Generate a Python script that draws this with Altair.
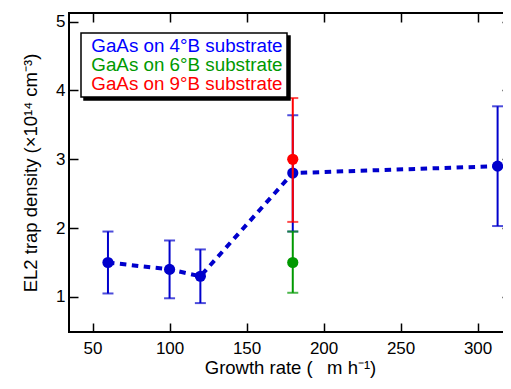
import altair as alt
import pandas as pd

series = ["GaAs on 4°B substrate", "GaAs on 6°B substrate", "GaAs on 9°B substrate"]
colors = ["#0000cc", "#009900", "#ff0000"]
text_colors = ["#0000ff", "#009900", "#ff0000"]

blue_x = [60, 100, 120, 180, 313]
blue_y = [1.5, 1.4, 1.3, 2.8, 2.9]
blue_lo = [1.05, 0.98, 0.91, 1.95, 2.03]
blue_hi = [1.95, 1.82, 1.69, 3.64, 3.77]

green_x = [180]
green_y = [1.5]
green_lo = [1.06]
green_hi = [1.95]

red_x = [180]
red_y = [3.0]
red_lo = [2.09]
red_hi = [3.89]

x_ticks = [50, 100, 150, 200, 250, 300]
y_ticks = [1, 2, 3, 4, 5]

FONT = "Liberation Sans"


def frame(xs, ys, lo, hi, name):
    return pd.DataFrame({"rate": xs, "val": ys, "lo": lo, "hi": hi, "series": [name] * len(xs),
                         "shadow": [name + "#"] * len(xs)})


dfs = [
    frame(blue_x, blue_y, blue_lo, blue_hi, series[0]),
    frame(green_x, green_y, green_lo, green_hi, series[1]),
    frame(red_x, red_y, red_lo, red_hi, series[2]),
]

xscale = alt.Scale(domain=[34.7, 321.7], nice=False, zero=False)
yscale = alt.Scale(domain=[0.49, 5.126], nice=False, zero=False)

x_axis = alt.Axis(values=x_ticks, title="Growth rate (\u2002\u00a0m h⁻¹)", domain=False, tickSize=9, offset=-9,
                  labelPadding=8, titlePadding=2, grid=False)
y_axis = alt.Axis(values=y_ticks, title="EL2 trap density (×10¹⁴ cm⁻³)", domain=False, tickSize=9, offset=-9,
                  labelPadding=4, titlePadding=15, grid=False)

label_color_expr = (
    f"datum.label == '{series[0]}' ? '{text_colors[0]}' : "
    f"datum.label == '{series[1]}' ? '{text_colors[1]}' : '{text_colors[2]}'"
)

common_legend = dict(
    title=None, orient="none", padding=3.5,
    labelFont=FONT, labelFontSize=18.8, labelOffset={"expr": "-26"}, labelLimit=400,
    symbolSize=0, symbolOpacity=0, symbolStrokeWidth=0, symbolOffset=14,
    rowPadding=0, clipHeight=18.3,
)

legend = alt.Legend(legendX=12, legendY=20, fillColor="white", strokeColor="black", zindex=2,
                    labelColor={"expr": label_color_expr}, **common_legend)
shadow_legend = alt.Legend(legendX=15, legendY=23, fillColor="black", strokeColor="black", zindex=1,
                           labelColor="black", labelExpr="slice(datum.label, 0, -1)", **common_legend)

color = alt.Color("series:N", scale=alt.Scale(domain=series, range=colors), legend=legend)

X = alt.X("rate:Q", scale=xscale, axis=x_axis)
Y = alt.Y("val:Q", scale=yscale, axis=y_axis)

layers = []
for i, df in enumerate(dfs):
    base = alt.Chart(df)
    if i == 0:
        layers.append(base.mark_line(color=colors[0], strokeWidth=4, strokeDash=[6.5, 5.5]).encode(x=X, y=Y))
    layers.append(base.mark_rule(strokeWidth=2).encode(x=X, y=alt.Y("lo:Q", scale=yscale, axis=y_axis), y2="hi:Q", color=color))
    layers.append(base.mark_tick(orient="horizontal", size=11, thickness=2).encode(x=X, y=alt.Y("lo:Q", scale=yscale, axis=y_axis), color=color))
    layers.append(base.mark_tick(orient="horizontal", size=11, thickness=2).encode(x=X, y=alt.Y("hi:Q", scale=yscale, axis=y_axis), color=color))
    layers.append(base.mark_circle(size=125, opacity=1).encode(x=X, y=Y, color=color))

main = alt.layer(*layers)

mirror = alt.Chart(dfs[0]).mark_circle(size=125, opacity=0).encode(
    x=alt.X("rate:Q", scale=xscale, axis=alt.Axis(orient="top", values=x_ticks, labels=False, title=None,
                                                    domain=False, tickSize=9, offset=-9, grid=False)),
    y=alt.Y("val:Q", scale=yscale, axis=alt.Axis(orient="right", values=y_ticks, labels=False, title=None,
                                                   domain=False, tickSize=9, offset=-9, grid=False)),
    fill=alt.Fill("shadow:N", scale=alt.Scale(domain=[s + "#" for s in series], range=["black"] * 3),
                  legend=shadow_legend),
)

chart = alt.layer(main, mirror).resolve_scale(x="independent", y="independent").properties(
    width=442, height=319,
    autosize=alt.AutoSizeParams(type="none"),
    padding={"left": 61, "top": 5, "right": -8, "bottom": 49},
).configure_view(stroke="black", strokeWidth=2).configure_axis(
    labelFont=FONT, titleFont=FONT, labelFontSize=17, titleFontSize=18.5,
    labelColor="black", titleColor="black", tickColor="black", tickWidth=1.5,
    titleFontWeight="normal",
).configure_legend(strokeWidth=1.5)

chart.save("out.html", embed_options={"renderer": "svg", "actions": False})
